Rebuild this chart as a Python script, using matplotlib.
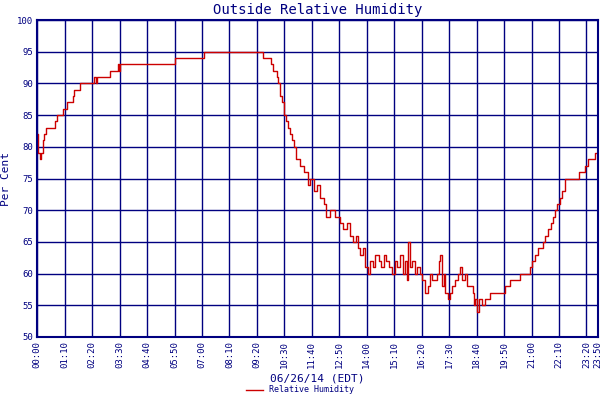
import matplotlib
matplotlib.use("Agg")
import matplotlib.pyplot as plt

# minutes since midnight, relative humidity (%)
minutes = [0, 3, 6, 10, 14, 18, 22, 26, 35, 45, 50, 58, 66, 75, 85, 90, 95, 105, 110, 140, 145, 150, 153,
           180, 185, 200, 205, 208, 211, 214, 350, 424, 568, 575, 590, 596, 600, 606, 610, 615, 620, 625,
           630, 635, 640, 645, 650, 655, 660, 670, 680, 690, 696, 705, 712, 721, 730, 736, 746, 755, 760,
           772, 780, 790, 798, 805, 812, 818, 823, 830, 836, 842, 849, 856, 862, 870, 876, 884, 890, 898,
           905, 912, 918, 925, 932, 938, 942, 946, 950, 956, 962, 968, 976, 982, 989, 995, 1000, 1006, 1014,
           1020, 1024, 1027, 1032, 1036, 1040, 1046, 1052, 1058, 1066, 1072, 1078, 1084, 1090, 1096, 1104,
           1110, 1113, 1116, 1120, 1125, 1129, 1135, 1142, 1155, 1170, 1180, 1193, 1205, 1218, 1230, 1244,
           1255, 1262, 1269, 1276, 1283, 1290, 1295, 1302, 1310, 1316, 1320, 1326, 1332, 1338, 1346, 1371,
           1380, 1390, 1397, 1405, 1415, 1422, 1430]
humidity = [82, 79, 78, 79, 81, 82, 83, 83, 83, 84, 85, 85, 86, 87, 87, 88, 89, 89, 90, 90, 91, 90, 91,
            91, 92, 92, 93, 92, 93, 93, 94, 95, 95, 94, 94, 93, 92, 92, 91, 90, 88, 87, 85, 84, 83, 82, 81,
            80, 78, 77, 76, 74, 75, 73, 74, 72, 71, 69, 70, 70, 69, 68, 67, 68, 66, 65, 66, 64, 63, 64, 61,
            60, 62, 61, 63, 62, 61, 63, 62, 61, 60, 62, 61, 63, 60, 62, 59, 65, 61, 62, 60, 61, 60, 59, 57,
            58, 60, 59, 59, 60, 62, 63, 58, 60, 57, 56, 57, 58, 59, 60, 61, 59, 60, 58, 58, 57, 55, 56, 54,
            56, 56, 55, 56, 57, 57, 57, 58, 59, 59, 60, 60, 61, 62, 63, 64, 64, 65, 66, 67, 68, 69, 70, 71,
            72, 73, 75, 75, 76, 76, 77, 78, 78, 79, 80]

xticks = list(range(0, 1430, 70)) + [1430]
xlabels = ["%02d:%02d" % (m // 60, m % 60) for m in xticks]
navy = "#000080"
mono = "DejaVu Sans Mono"

fig = plt.figure(figsize=(6, 4), dpi=100)
ax = fig.add_axes([0.062, 0.1575, 0.935, 0.7925])
ax.step(minutes, humidity, where="post", color="#cc0000", lw=1.0, label="Relative Humidity")

ax.set_xlim(0, 1430)
ax.set_ylim(50, 100)
ax.set_xticks(xticks)
ax.set_xticklabels(xlabels, rotation=90, fontsize=6.5, family=mono, color=navy)
ax.set_yticks(range(50, 101, 5))
ax.set_yticklabels([str(v) for v in range(50, 101, 5)], fontsize=6.5, family=mono, color=navy)
ax.tick_params(length=0, pad=3)
ax.grid(True, color=navy, lw=1)
for s in ax.spines.values():
    s.set_color(navy)
    s.set_linewidth(1.5)

ax.set_title("Outside Relative Humidity", fontsize=10, family=mono, color=navy, pad=4)
ax.set_ylabel("Per Cent", fontsize=8, family=mono, color=navy, labelpad=4)
ax.set_xlabel("06/26/14 (EDT)", fontsize=8, family=mono, color=navy, labelpad=4)
leg = fig.legend(loc="lower center", bbox_to_anchor=(0.5, -0.005), frameon=False,
                 prop={"family": mono, "size": 6}, handlelength=2)
for t in leg.get_texts():
    t.set_color(navy)

fig.savefig("out.png", dpi=100)
